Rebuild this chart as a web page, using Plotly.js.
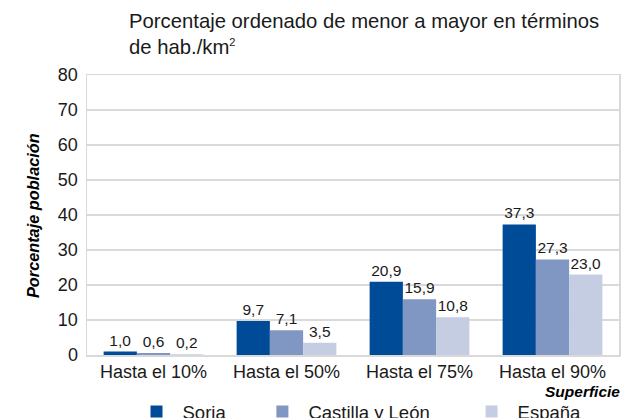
<!DOCTYPE html>
<html>
<head>
<meta charset="utf-8">
<script src="https://cdn.plot.ly/plotly-3.0.1.min.js"></script>
<style>html,body{margin:0;padding:0;background:#fff;}#chart{width:622px;height:418px;}</style>
</head>
<body>
<div id="chart"></div>
<script>
var categories = ["Hasta el 10%", "Hasta el 50%", "Hasta el 75%", "Hasta el 90%"];
var seriesNames = ["Soria", "Castilla y León", "España"];
var soria = [1.0, 9.7, 20.9, 37.3];
var castilla = [0.6, 7.1, 15.9, 27.3];
var espana = [0.2, 3.5, 10.8, 23.0];
var yTicks = [0, 10, 20, 30, 40, 50, 60, 70, 80];

var colors = ["#004b97", "#8097c3", "#c4cde1"];
var FONT = "Liberation Sans, Arial, Helvetica, sans-serif";
var values = [soria, castilla, espana];
var NB = "\u00a0";
function pad(n) { var s = ""; for (var k = 0; k < n; k++) s += NB; return s; }
var legendPad = [5, 6, 0];

var traces = values.map(function (v, i) {
  return {
    type: "bar",
    name: seriesNames[i] + pad(legendPad[i]),
    x: categories,
    y: v,
    marker: { color: colors[i], line: { width: 0 } },
    texttemplate: "%{y:.1f}",
    textposition: "outside",
    cliponaxis: false,
    textfont: { family: FONT, size: 15.5, color: "#1a1a1a" },
    hoverinfo: "none"
  };
});

var layout = {
  width: 622,
  height: 418,
  separators: ",.",
  margin: { l: 87, r: 3, t: 75, b: 63, autoexpand: false },
  paper_bgcolor: "#ffffff",
  plot_bgcolor: "#ffffff",
  barmode: "group",
  bargap: 0.25,
  bargroupgap: 0,
  font: { family: FONT, color: "#1a1a1a" },
  showlegend: true,
  legend: {
    orientation: "h",
    xref: "container", yref: "container",
    x: 130.5 / 622, xanchor: "left",
    y: 6 / 418, yanchor: "middle",
    font: { family: FONT, size: 18.5, color: "#1a1a1a" },
    itemwidth: 42,
    traceorder: "normal",
    bgcolor: "rgba(0,0,0,0)"
  },
  xaxis: {
    type: "category",
    tickfont: { family: FONT, size: 18, color: "#1a1a1a" },
    showline: true, linecolor: "#d9d9d9", linewidth: 1.5, mirror: true,
    ticks: "", showgrid: false, fixedrange: true
  },
  yaxis: {
    range: [0, 80],
    tickvals: yTicks,
    tickfont: { family: FONT, size: 18, color: "#1a1a1a" },
    ticklabelstandoff: 4,
    showgrid: true, gridcolor: "#d9d9d9", gridwidth: 1.5,
    showline: true, linecolor: "#d9d9d9", linewidth: 1.5, mirror: true,
    zeroline: false, ticks: "", ticklen: 0, fixedrange: true
  },
  annotations: [
    {
      xref: "paper", yref: "paper",
      x: (127 - 87) / 532, y: 1 + (75 - 8) / 280,
      xanchor: "left", yanchor: "top", align: "left",
      showarrow: false,
      text: "Porcentaje ordenado de menor a mayor en términos<br>de hab./km<sup><span style=\"font-size:11px\">2</span></sup>",
      font: { family: FONT, size: 20.3, color: "#1a1a1a" }
    },
    {
      xref: "paper", yref: "paper",
      x: (33 - 87) / 532, y: (355 - 216) / 280,
      xanchor: "center", yanchor: "middle",
      textangle: -90, showarrow: false,
      text: "<b><i>Porcentaje población</i></b>",
      font: { family: FONT, size: 16.3, color: "#000000" }
    },
    {
      xref: "paper", yref: "paper",
      x: (622 - 87) / 532, y: (355 - 391) / 280,
      xanchor: "right", yanchor: "middle",
      showarrow: false,
      text: "<b><i>Superficie</i></b>",
      font: { family: FONT, size: 15.5, color: "#000000" }
    }
  ]
};

Plotly.newPlot("chart", traces, layout, { displayModeBar: false, staticPlot: true });
</script>
</body>
</html>
